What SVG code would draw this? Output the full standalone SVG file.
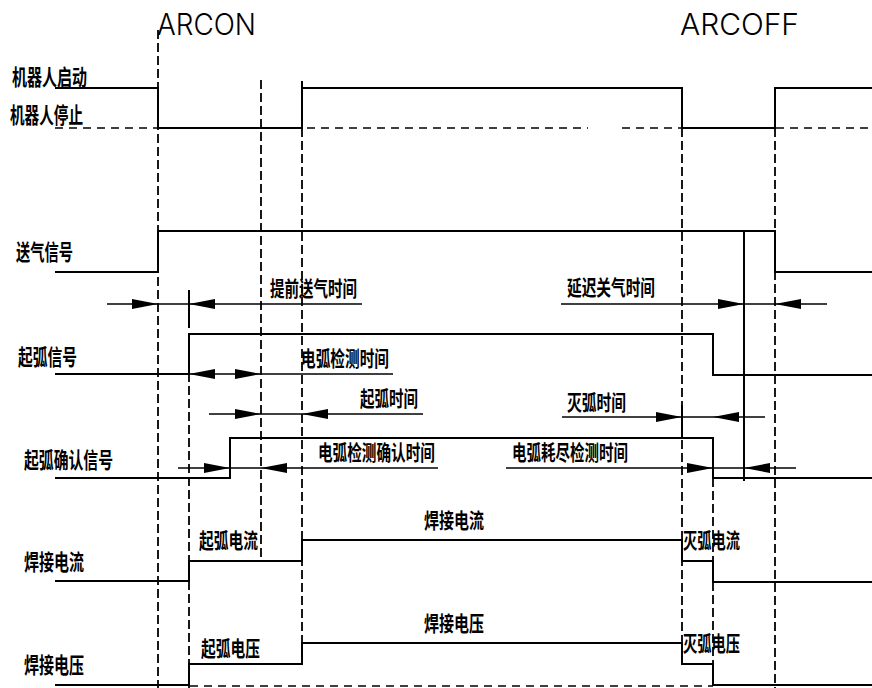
<svg xmlns="http://www.w3.org/2000/svg" xmlns:xlink="http://www.w3.org/1999/xlink" width="872" height="688" viewBox="0 0 872 688">
<style>
.bg{fill:#fff}
.w{fill:none;stroke:#000;stroke-width:2}
.d{fill:none;stroke:#000;stroke-width:1.8;stroke-dasharray:9 4}
.dh{fill:none;stroke:#000;stroke-width:1.4;stroke-dasharray:8 6}
.dim{fill:none;stroke:#000;stroke-width:1.6}
.lab{font-family:"Noto Sans CJK SC","Noto Sans CJK JP",sans-serif;font-size:22px;font-weight:700;fill:#000}
.ann{font-family:"Noto Sans CJK SC","Noto Sans CJK JP",sans-serif;font-size:21px;font-weight:700;fill:#000}
.big{font-family:Inter,"Liberation Sans",Arial,sans-serif;font-size:30px;font-weight:300;fill:#000}
</style>
<defs>
<path id="ar" d="M0,0 L-26,-5 L-26,5 Z" fill="#000"/>
</defs>
<rect class="bg" x="0" y="0" width="872" height="688"/>

<g id="markers">
<text class="big" x="157" y="35" textLength="99" lengthAdjust="spacingAndGlyphs">ARCON</text>
<text class="big" x="680" y="35" textLength="119" lengthAdjust="spacingAndGlyphs">ARCOFF</text>
</g>

<g id="connectors">
<!-- dashed guides -->
<path class="d" d="M158,30 V688"/>
<path class="d" d="M189,334 V688"/>
<path class="d" d="M261,80 V561"/>
<path class="d" d="M302,128 V643"/>
<path class="d" d="M682,128 V664"/>
<path class="d" d="M713,478 V685"/>
<path class="d" d="M775,128 V688"/>
<path class="dh" d="M55,128 H588 M622,128 H872"/>
<path class="dh" d="M190,686 H713"/>
<!-- extension lines -->
<path class="w" d="M189,290 V328"/>
<path class="w" d="M744,231 V481"/>
<path class="w" d="M682,405 V437"/>
<!-- dimension lines -->
<path class="dim" d="M107,304 H362"/>
<use xlink:href="#ar" transform="translate(158,304)"/>
<use xlink:href="#ar" transform="translate(189,304) scale(-1,1)"/>
<path class="dim" d="M561,304 H827"/>
<use xlink:href="#ar" transform="translate(744,304)"/>
<use xlink:href="#ar" transform="translate(775,304) scale(-1,1)"/>
<path class="dim" d="M189,374 H393"/>
<use xlink:href="#ar" transform="translate(189,374) scale(-1,1)"/>
<use xlink:href="#ar" transform="translate(261,374)"/>
<path class="dim" d="M209,414 H423"/>
<use xlink:href="#ar" transform="translate(261,414)"/>
<use xlink:href="#ar" transform="translate(302,414) scale(-1,1)"/>
<path class="dim" d="M562,417 H765"/>
<use xlink:href="#ar" transform="translate(682,417)"/>
<use xlink:href="#ar" transform="translate(713,417) scale(-1,1)"/>
<path class="dim" d="M178,468 H438"/>
<use xlink:href="#ar" transform="translate(230,468)"/>
<use xlink:href="#ar" transform="translate(261,468) scale(-1,1)"/>
<path class="dim" d="M506,468 H796"/>
<use xlink:href="#ar" transform="translate(713,468)"/>
<use xlink:href="#ar" transform="translate(744,468) scale(-1,1)"/>
<!-- dimension labels -->
<text class="ann" x="270" y="296" textLength="87" lengthAdjust="spacingAndGlyphs">提前送气时间</text>
<text class="ann" x="567" y="295" textLength="88" lengthAdjust="spacingAndGlyphs">延迟关气时间</text>
<text class="ann" x="301" y="366" textLength="88" lengthAdjust="spacingAndGlyphs">电弧检测时间</text>
<text class="ann" x="360" y="406" textLength="58" lengthAdjust="spacingAndGlyphs">起弧时间</text>
<text class="ann" x="567" y="410" textLength="59" lengthAdjust="spacingAndGlyphs">灭弧时间</text>
<text class="ann" x="318" y="460" textLength="117" lengthAdjust="spacingAndGlyphs">电弧检测确认时间</text>
<text class="ann" x="512" y="460" textLength="116" lengthAdjust="spacingAndGlyphs">电弧耗尽检测时间</text>
</g>

<g id="robot">
<text class="lab" x="12" y="85" textLength="75" lengthAdjust="spacingAndGlyphs">机器人启动</text>
<text class="lab" x="10" y="123" textLength="73" lengthAdjust="spacingAndGlyphs">机器人停止</text>
<path class="w" d="M55,88 H158 V128 H302 V81 M302,88 H682 V128 H775 V88 H872"/>
</g>

<g id="gas">
<text class="lab" x="16" y="260" textLength="57" lengthAdjust="spacingAndGlyphs">送气信号</text>
<path class="w" d="M55,272 H158 V231 H775 V272 H872"/>
</g>

<g id="arc">
<text class="lab" x="18" y="365" textLength="59" lengthAdjust="spacingAndGlyphs">起弧信号</text>
<path class="w" d="M55,374 H189 V334 H713 V375 H872"/>
</g>

<g id="arcconfirm">
<text class="lab" x="24" y="468" textLength="89" lengthAdjust="spacingAndGlyphs">起弧确认信号</text>
<path class="w" d="M55,478 H230 V438 H713 V478 H872"/>
</g>

<g id="current">
<text class="lab" x="24" y="570" textLength="60" lengthAdjust="spacingAndGlyphs">焊接电流</text>
<path class="w" d="M55,581 H189 V561 H302 V540 H682 V561 H713 V582 H872"/>
<text class="ann" x="199" y="548" textLength="59" lengthAdjust="spacingAndGlyphs">起弧电流</text>
<text class="ann" x="424" y="528" textLength="60" lengthAdjust="spacingAndGlyphs">焊接电流</text>
<text class="ann" x="683" y="548" textLength="57" lengthAdjust="spacingAndGlyphs">灭弧电流</text>
</g>

<g id="voltage">
<text class="lab" x="24" y="673" textLength="60" lengthAdjust="spacingAndGlyphs">焊接电压</text>
<path class="w" d="M55,685 H189 V664 H302 V643 H682 V664 H713 V685 H872"/>
<text class="ann" x="201" y="656" textLength="59" lengthAdjust="spacingAndGlyphs">起弧电压</text>
<text class="ann" x="424" y="631" textLength="60" lengthAdjust="spacingAndGlyphs">焊接电压</text>
<text class="ann" x="683" y="651" textLength="57" lengthAdjust="spacingAndGlyphs">灭弧电压</text>
</g>
</svg>
